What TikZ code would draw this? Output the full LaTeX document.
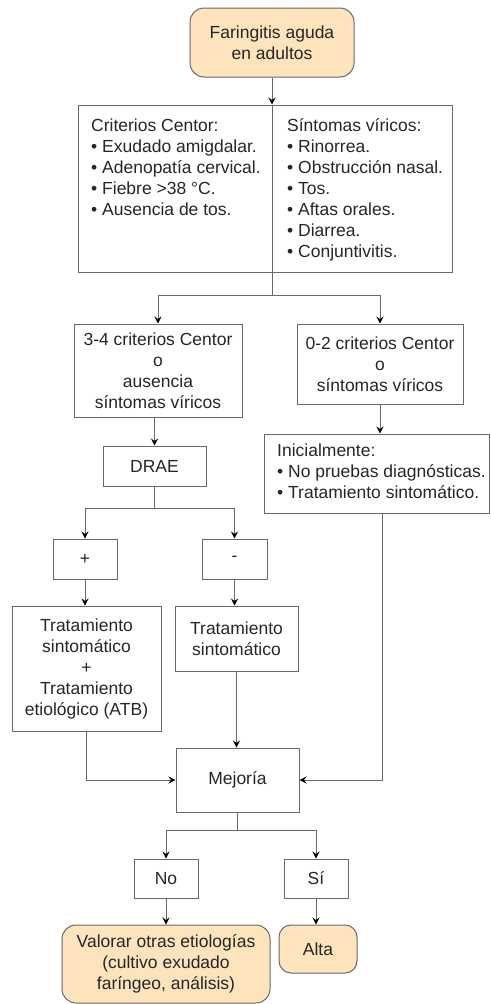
\documentclass[tikz,border=0pt]{standalone}
\usepackage{fontspec}
\setmainfont{Liberation Sans}
\usetikzlibrary{arrows.meta}
\definecolor{peach}{RGB}{253,228,188}
\definecolor{linec}{RGB}{105,105,105}
\begin{document}
\begin{tikzpicture}[x=1pt,y=-1pt,
  every node/.style={font=\fontsize{17.5}{21}\selectfont, text=black!85},
  box/.style={draw=linec, line width=1pt, rectangle, inner sep=0pt, align=center},
  term/.style={box, fill=peach, rounded corners=14pt},
  txt/.style={inner sep=0pt},
  arr/.style={draw=linec, line width=1pt, -{Stealth[length=7pt,width=7pt,inset=2.5pt,color=black]}},
  ln/.style={draw=linec, line width=1pt}]
\useasboundingbox (0,0) rectangle (490,1004);

% nodes
\node[term, minimum width=164pt, minimum height=69pt] (start) at (272,42.5) {Faringitis aguda\\en adultos};
\node[box, minimum width=374pt, minimum height=167pt] (crit) at (265,188.5) {};
\node[txt, anchor=north west] (critL) at (91,116.8) {\begin{tabular}{@{}l@{}}Criterios Centor:\\• Exudado amigdalar.\\• Adenopatía cervical.\\• Fiebre >38 °C.\\• Ausencia de tos.\end{tabular}};
\node[txt, anchor=north west] (critR) at (287,116.8) {\begin{tabular}{@{}l@{}}Síntomas víricos:\\• Rinorrea.\\• Obstrucción nasal.\\• Tos.\\• Aftas orales.\\• Diarrea.\\• Conjuntivitis.\end{tabular}};

\node[box, minimum width=168pt, minimum height=93pt] (c34) at (158,370.5) {3-4 criterios Centor\\o\\ausencia\\síntomas víricos};
\node[box, minimum width=166pt, minimum height=80pt] (c02) at (380,364) {0-2 criterios Centor\\o\\síntomas víricos};
\node[box, minimum width=103pt, minimum height=40pt] (drae) at (154.5,466) {DRAE};
\node[box, minimum width=225pt, minimum height=79pt] (init) at (376.5,473.5) {};
\node[txt, anchor=west] (initT) at (277,473.5) {\begin{tabular}{@{}l@{}}Inicialmente:\\• No pruebas diagnósticas.\\• Tratamiento sintomático.\end{tabular}};

\node[box, minimum width=64pt, minimum height=40pt] (plus) at (85,559) {+};
\node[box, minimum width=65pt, minimum height=40pt] (minus) at (234.5,559) {-};
\node[box, minimum width=149pt, minimum height=125pt] (t1) at (86.5,668.5) {Tratamiento\\sintomático\\+\\Tratamiento\\etiológico (ATB)};
\node[box, minimum width=123pt, minimum height=65pt] (t2) at (236.5,638.5) {Tratamiento\\sintomático};
\node[box, minimum width=123pt, minimum height=64pt] (mej) at (237.5,780) {Mejoría};
\node[box, minimum width=64pt, minimum height=39pt] (no) at (166,878.5) {No};
\node[box, minimum width=64pt, minimum height=39pt] (si) at (316,878.5) {Sí};
\node[term, minimum width=208pt, minimum height=78pt] (val) at (166,964) {Valorar otras etiologías\\(cultivo exudado\\faríngeo, análisis)};
\node[term, rounded corners=12pt, minimum width=78pt, minimum height=48pt] (alta) at (318,949) {Alta};

% connectors
\coordinate (s1) at (272,295);
\coordinate (s2) at (154.5,508);
\coordinate (s3) at (237.5,830);
\draw[arr] (start.south) -- (start.south |- crit.north);
\draw[ln] (crit.north -| start.south) -- (s1);
\draw[arr] (s1) -| (c34.north);
\draw[arr] (s1) -| (c02.north);
\draw[arr] (c34.south -| drae.north) -- (drae.north);
\draw[ln] (drae.south) -- (s2);
\draw[arr] (s2) -| (plus.north);
\draw[arr] (s2) -| (minus.north);
\draw[arr] (plus.south) -- (plus.south |- t1.north);
\draw[arr] (minus.south) -- (minus.south |- t2.north);
\draw[arr] (c02.south) -- (c02.south |- init.north);
\draw[arr] (t2.south) -- (t2.south |- mej.north);
\draw[arr] (t1.south) |- (mej.west);
\draw[arr] ([xshift=5.5pt]init.south) |- (mej.east);
\draw[ln] (mej.south) -- (s3);
\draw[arr] (s3) -| (no.north);
\draw[arr] (s3) -| (si.north);
\draw[arr] (no.south) -- (no.south |- val.north);
\draw[arr] (si.south) -- (si.south |- alta.north);
\end{tikzpicture}
\end{document}
